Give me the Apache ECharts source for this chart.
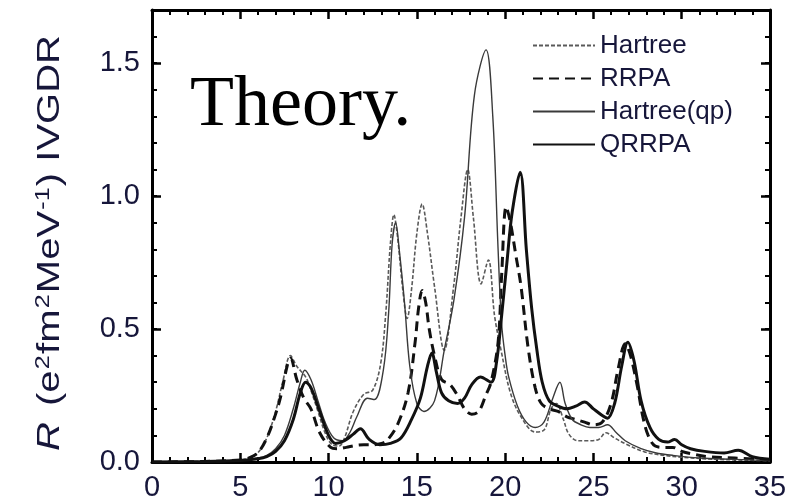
<!DOCTYPE html>
<html>
<head>
<meta charset="utf-8">
<script src="https://cdn.jsdelivr.net/npm/echarts@6/dist/echarts.min.js"></script>
<style>
  html, body { margin: 0; padding: 0; background: #fff; }
  #chart { width: 799px; height: 502px; }
</style>
</head>
<body>
<div id="chart"></div>
<script>
// Excitation energy (MeV) and strength R (e^2 fm^2 MeV^-1) for each calculation
const hartreeE = [0, 3, 5, 5.5, 6, 6.5, 7, 7.4, 7.84, 8.2, 8.7, 9.0, 9.4, 9.8, 10.2, 10.6, 10.9, 11.4, 12.0, 12.5, 12.95, 13.24, 13.5, 13.7, 13.9, 14.2, 14.45, 14.7, 15.0, 15.3, 15.6, 16.0, 16.55, 17.1, 17.5, 17.88, 18.2, 18.64, 19.05, 19.4, 19.77, 20.3, 20.9, 21.7, 22.2, 22.6, 22.9, 23.3, 23.6, 24.1, 24.7, 25.3, 25.7, 26.2, 26.8, 27.9, 29, 30, 32, 35];
const hartreeR = [0, 0.002, 0.008, 0.015, 0.035, 0.09, 0.19, 0.30, 0.40, 0.36, 0.32, 0.27, 0.19, 0.11, 0.065, 0.06, 0.09, 0.19, 0.255, 0.27, 0.37, 0.56, 0.82, 0.93, 0.85, 0.65, 0.54, 0.65, 0.86, 0.97, 0.86, 0.66, 0.42, 0.67, 0.92, 1.10, 0.92, 0.67, 0.76, 0.55, 0.42, 0.26, 0.17, 0.113, 0.12, 0.20, 0.22, 0.16, 0.106, 0.08, 0.08, 0.085, 0.11, 0.09, 0.069, 0.038, 0.025, 0.018, 0.01, 0.005];

const rrpaE = [0, 3, 5, 5.5, 6, 6.5, 7, 7.3, 7.65, 7.84, 8.2, 8.6, 9.0, 9.5, 10.1, 10.5, 11, 11.5, 12, 12.5, 13, 13.3, 13.9, 14.5, 14.9, 15.1, 15.3, 15.5, 15.7, 16.0, 16.4, 16.9, 17.3, 17.7, 18.1, 18.5, 18.9, 19.2, 19.6, 19.8, 20.06, 20.3, 20.6, 20.9, 21.3, 21.7, 22.05, 22.5, 23, 23.5, 24, 24.5, 25, 25.5, 26, 26.4, 26.8, 27.1, 27.5, 27.8, 28.1, 28.5, 29, 29.5, 30, 30.6, 31.5, 33, 35];
const rrpaR = [0, 0.002, 0.008, 0.015, 0.035, 0.09, 0.18, 0.25, 0.36, 0.39, 0.31, 0.24, 0.20, 0.11, 0.056, 0.05, 0.055, 0.062, 0.065, 0.065, 0.07, 0.08, 0.14, 0.26, 0.45, 0.58, 0.645, 0.60, 0.50, 0.40, 0.31, 0.29, 0.25, 0.20, 0.18, 0.19, 0.25, 0.30, 0.45, 0.70, 0.96, 0.90, 0.78, 0.66, 0.43, 0.28, 0.22, 0.20, 0.19, 0.17, 0.16, 0.15, 0.14, 0.15, 0.22, 0.35, 0.445, 0.40, 0.28, 0.17, 0.10, 0.06, 0.055, 0.055, 0.04, 0.03, 0.02, 0.015, 0.008];

const hartreeQpE = [0, 3, 5, 6, 6.5, 7, 7.5, 8, 8.4, 8.65, 9.0, 9.4, 9.8, 10.3, 10.8, 11.2, 11.6, 12.2, 12.6, 13.1, 13.4, 13.6, 13.8, 14.0, 14.3, 14.6, 15.0, 15.4, 16.0, 16.55, 17.1, 17.7, 18.26, 18.92, 19.3, 19.6, 19.8, 20.0, 20.2, 20.7, 21.2, 21.7, 22.2, 22.7, 23.1, 23.4, 23.8, 24.3, 24.8, 25.3, 25.8, 26.3, 26.8, 27.7, 28.5, 29.5, 31, 33, 35];
const hartreeQpR = [0, 0.002, 0.006, 0.015, 0.025, 0.05, 0.10, 0.20, 0.30, 0.345, 0.31, 0.23, 0.15, 0.09, 0.08, 0.11, 0.17, 0.24, 0.235, 0.345, 0.56, 0.82, 0.90, 0.80, 0.60, 0.36, 0.22, 0.19, 0.23, 0.42, 0.61, 0.92, 1.38, 1.55, 1.30, 0.80, 0.52, 0.40, 0.32, 0.21, 0.15, 0.13, 0.15, 0.24, 0.30, 0.22, 0.16, 0.14, 0.13, 0.13, 0.14, 0.11, 0.08, 0.05, 0.035, 0.025, 0.015, 0.01, 0.005];

const qrrpaE = [0, 3, 5, 6, 6.5, 7, 7.5, 8, 8.4, 8.7, 9.0, 9.5, 10.0, 10.4, 10.9, 11.4, 11.8, 12.3, 12.9, 13.5, 14.1, 14.7, 15.2, 15.6, 15.85, 16.1, 16.4, 16.8, 17.3, 17.7, 18.1, 18.6, 19.2, 19.5, 19.8, 20.1, 20.4, 20.85, 21.2, 21.5, 21.8, 22.1, 22.5, 23, 23.5, 24, 24.5, 25, 25.5, 25.8, 26.2, 26.6, 26.95, 27.3, 27.7, 28.2, 28.7, 29.2, 29.6, 30, 30.5, 31.3, 32.4, 33.2, 34, 35];
const qrrpaR = [0, 0.002, 0.006, 0.012, 0.02, 0.04, 0.08, 0.16, 0.26, 0.30, 0.28, 0.19, 0.10, 0.07, 0.08, 0.105, 0.125, 0.085, 0.065, 0.07, 0.09, 0.16, 0.24, 0.36, 0.41, 0.34, 0.26, 0.23, 0.22, 0.24, 0.29, 0.32, 0.30, 0.37, 0.55, 0.75, 0.94, 1.09, 0.80, 0.58, 0.42, 0.30, 0.23, 0.21, 0.20, 0.21, 0.226, 0.20, 0.175, 0.165, 0.22, 0.36, 0.45, 0.38, 0.23, 0.13, 0.085, 0.075, 0.085, 0.065, 0.05, 0.04, 0.034, 0.044, 0.02, 0.01];

const seriesNames = ['Hartree', 'RRPA', 'Hartree(qp)', 'QRRPA'];
const xTicks = { min: 0, max: 35, interval: 5, minor: 5 };
const yTicks = { min: 0, max: 1.7, interval: 0.5, minorInterval: 0.1 };

const pairs = (xs, ys) => xs.map((x, i) => [x, ys[i]]);

const labelColor = '#16163a';
const sansFont = '"Liberation Sans", Arial, Helvetica, sans-serif';

const tickStyle = { color: '#000', width: 2.5 };

// Boxed frame: ticks point inwards on all four sides
const majorAxis = (extra) => Object.assign({
  type: 'value',
  axisLine: { show: true, onZero: false, lineStyle: { color: '#000', width: 3 } },
  axisTick: { show: true, inside: true, length: 9, lineStyle: tickStyle },
  splitLine: { show: false },
  minorSplitLine: { show: false }
}, extra);

// Fine ticks every 0.1 on the vertical sides
const minorYAxis = (position) => ({
  type: 'value',
  position,
  min: yTicks.min, max: yTicks.max, interval: yTicks.minorInterval,
  axisLine: { show: false, onZero: false },
  axisTick: { show: true, inside: true, length: 5, lineStyle: { color: '#000', width: 2 } },
  axisLabel: { show: false },
  splitLine: { show: false }
});

const xMinor = { show: true, splitNumber: xTicks.minor, length: 5, lineStyle: { color: '#000', width: 2 } };

const lineSeries = (name, xs, ys, style) => ({
  name,
  type: 'line',
  xAxisIndex: 0,
  yAxisIndex: 0,
  data: pairs(xs, ys),
  smooth: 0.35,
  symbol: 'none',
  showSymbol: false,
  lineStyle: style,
  itemStyle: { color: style.color },
  emphasis: { disabled: true },
  z: 3
});

const chart = echarts.init(document.getElementById('chart'), null, { renderer: 'canvas' });

chart.setOption({
  animation: false,
  backgroundColor: '#fff',
  grid: { left: 152, right: 29, top: 10, bottom: 37, containLabel: false },
  legend: {
    orient: 'vertical',
    left: 532,
    top: 32,
    padding: 0,
    itemWidth: 62,
    itemHeight: 12,
    itemGap: 6,
    data: seriesNames,
    itemStyle: { opacity: 0, borderWidth: 0 },
    textStyle: { fontFamily: sansFont, fontSize: 26, color: labelColor, lineHeight: 27 },
    selectedMode: false
  },
  xAxis: [
    majorAxis({
      position: 'bottom',
      min: xTicks.min, max: xTicks.max, interval: xTicks.interval,
      minorTick: xMinor,
      axisLabel: { show: true, margin: 11, fontFamily: sansFont, fontSize: 29, color: labelColor }
    }),
    majorAxis({
      position: 'top',
      min: xTicks.min, max: xTicks.max, interval: xTicks.interval,
      minorTick: xMinor,
      axisLabel: { show: false }
    })
  ],
  yAxis: [
    majorAxis({
      position: 'left',
      min: yTicks.min, max: yTicks.max, interval: yTicks.interval,
      axisLabel: {
        show: true, margin: 12, fontFamily: sansFont, fontSize: 29, color: labelColor,
        showMaxLabel: false,
        formatter: v => v.toFixed(1)
      }
    }),
    majorAxis({
      position: 'right',
      min: yTicks.min, max: yTicks.max, interval: yTicks.interval,
      axisLabel: { show: false }
    }),
    minorYAxis('left'),
    minorYAxis('right')
  ],
  graphic: [
    {
      type: 'text',
      left: 190,
      top: 70,
      z: 10,
      style: {
        text: 'Theory.',
        font: '72px "Liberation Serif", "Times New Roman", serif',
        fill: '#000'
      }
    },
    {
      // vertical axis title, reading bottom to top
      type: 'text',
      x: 50,
      y: 243,
      rotation: Math.PI / 2,
      scaleX: 1.25,
      z: 10,
      style: {
        text: '{it|R} (e{sup|2}fm{sup|2}MeV{sup|-1}) IVGDR',
        align: 'center',
        verticalAlign: 'middle',
        font: '32px "Liberation Sans", Arial, sans-serif',
        fill: labelColor,
        rich: {
          it: { font: 'italic 32px "Liberation Sans", Arial, sans-serif', fill: labelColor, padding: [0, 4, 0, 0] },
          sup: { font: '20px "Liberation Sans", Arial, sans-serif', fill: labelColor, verticalAlign: 'top', padding: [0, 1, 14, 1] }
        }
      }
    }
  ],
  series: [
    lineSeries('Hartree', hartreeE, hartreeR, { color: '#5a5a5a', width: 1.6, type: [4, 2] }),
    lineSeries('RRPA', rrpaE, rrpaR, { color: '#111', width: 3, type: [10, 6] }),
    lineSeries('Hartree(qp)', hartreeQpE, hartreeQpR, { color: '#3a3a3a', width: 1.4, type: 'solid' }),
    lineSeries('QRRPA', qrrpaE, qrrpaR, { color: '#111', width: 3, type: 'solid' })
  ]
});
</script>
</body>
</html>
